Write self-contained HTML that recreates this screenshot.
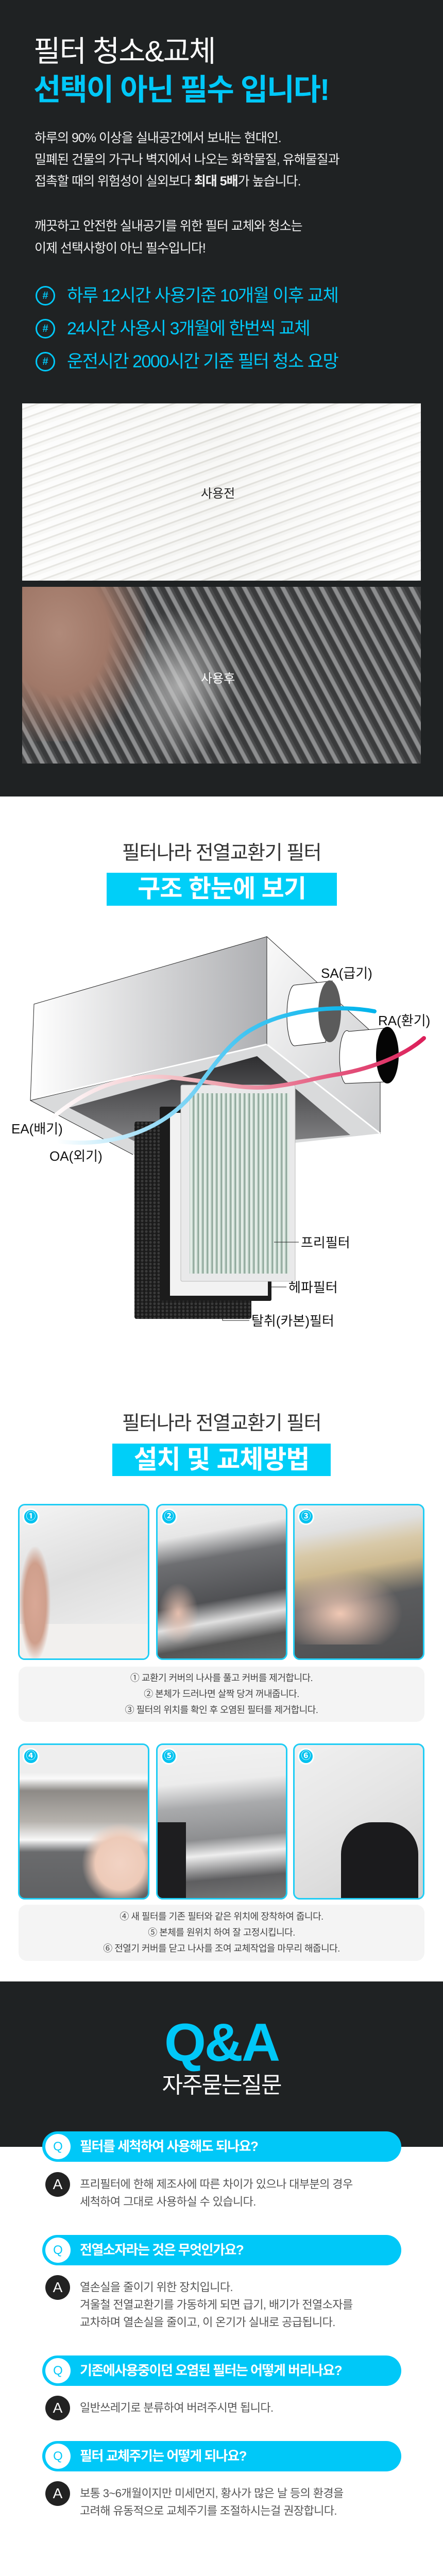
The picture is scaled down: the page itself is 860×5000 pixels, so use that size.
<!DOCTYPE html>
<html><head><meta charset="utf-8">
<style>
*{margin:0;padding:0;box-sizing:border-box}
body{width:860px;height:5000px;position:relative;background:#fff;font-family:"Liberation Sans","Noto Sans CJK KR",sans-serif;overflow:hidden}
.a{position:absolute;white-space:nowrap}
.dark{background:#1f2223}
.cy{color:#00c8f8}
.hash{position:absolute;left:69px;width:38px;height:38px;border:3px solid #00c8f8;border-radius:50%;color:#00c8f8;font-size:20px;font-weight:bold;text-align:center;line-height:32px}
.ht{position:absolute;left:130px;font-size:34px;color:#00c8f8;letter-spacing:-1.5px;line-height:40px}
.p{position:absolute;left:67px;font-size:25px;color:#f0f0f0;letter-spacing:-1px;line-height:30px}
.ph{position:absolute;width:255px;height:303px;border:3px solid #1fcdf5;border-radius:13px;overflow:hidden}
.num{position:absolute;left:6px;top:6px;width:32px;height:32px;border-radius:50%;background:#00c2ef;border:3px solid #fff;color:#fff;font-weight:bold;font-size:19px;text-align:center;line-height:26px}
.cap{position:absolute;left:36px;width:788px;background:#f4f4f4;border-radius:16px}
.cap div{text-align:center;font-size:18px;color:#444;letter-spacing:-0.5px;height:31px;line-height:31px}
.qb{position:absolute;left:82px;width:697px;height:59px;border-radius:30px;background:#00c8f8}
.qb .c{position:absolute;left:6px;top:5px;width:49px;height:49px;border-radius:50%;background:#fff;color:#00c8f8;font-size:24px;text-align:center;line-height:49px}
.qb .t{position:absolute;left:73px;top:0;line-height:59px;color:#fff;font-weight:bold;font-size:26px;letter-spacing:-1.5px}
.ac{position:absolute;left:88px;width:48px;height:48px;border-radius:50%;background:#222;color:#fff;font-size:28px;text-align:center;line-height:48px}
.at{position:absolute;left:155px;font-size:22px;color:#555;letter-spacing:-0.6px;line-height:34px}
</style></head><body>

<!-- section 1 dark -->
<div class="a dark" style="left:0;top:0;width:860px;height:1546px"></div>
<div class="a" style="left:65px;top:68px;font-size:57px;color:#fff;letter-spacing:-2px;line-height:64px">필터 청소&amp;교체</div>
<div class="a cy" style="left:65px;top:143px;font-size:58px;font-weight:bold;letter-spacing:-2px;line-height:64px">선택이 아닌 필수 입니다!</div>
<div class="p" style="top:253px">하루의 90% 이상을 실내공간에서 보내는 현대인.</div>
<div class="p" style="top:295px">밀폐된 건물의 가구나 벽지에서 나오는 화학물질, 유해물질과</div>
<div class="p" style="top:337px">접촉할 때의 위험성이 실외보다 <b>최대 5배</b>가 높습니다.</div>
<div class="p" style="top:424px">깨끗하고 안전한 실내공기를 위한 필터 교체와 청소는</div>
<div class="p" style="top:467px">이제 선택사항이 아닌 필수입니다!</div>
<div class="hash" style="top:555px">#</div><div class="ht" style="top:554px">하루 12시간 사용기준 10개월 이후 교체</div>
<div class="hash" style="top:619px">#</div><div class="ht" style="top:618px">24시간 사용시 3개월에 한번씩 교체</div>
<div class="hash" style="top:683px">#</div><div class="ht" style="top:682px">운전시간 2000시간 기준 필터 청소 요망</div>

<div class="a" style="left:43px;top:783px;width:774px;height:344px;background:repeating-linear-gradient(160deg,#fdfdfc 0 9px,#e2e1dc 10px 12px,#f7f7f5 13px 18px);"></div>
<div class="a" style="left:43px;top:783px;width:774px;height:344px;background:linear-gradient(90deg,rgba(255,255,255,.2),rgba(200,200,195,.1),rgba(255,255,255,.3))"></div>
<div class="a" style="left:390px;top:938px;font-size:24px;color:#222">사용전</div>

<div class="a" style="left:43px;top:1139px;width:774px;height:343px;background:repeating-linear-gradient(62deg,#3a3b3c 0 8px,#8d8e8f 10px 16px,#4a4b4c 18px 22px);"></div>
<div class="a" style="left:43px;top:1139px;width:240px;height:300px;background:radial-gradient(ellipse at 30% 30%,#b08a7a 0,#a07868 40%,rgba(140,110,100,.0) 75%)"></div>
<div class="a" style="left:240px;top:1180px;width:220px;height:300px;background:radial-gradient(ellipse at 50% 50%,rgba(200,200,200,.8),rgba(150,150,150,0) 70%)"></div>
<div class="a" style="left:390px;top:1297px;font-size:24px;color:#fff">사용후</div>

<!-- section 2 structure -->
<div class="a" style="left:0;top:1636px;width:860px;text-align:center;font-size:38px;color:#333;letter-spacing:-1.5px;line-height:40px">필터나라 전열교환기 필터</div>
<div class="a" style="left:207px;top:1694px;width:447px;height:64px;background:#00cff8;color:#fff;font-weight:bold;font-size:48px;text-align:center;line-height:64px;letter-spacing:-1px">구조 한눈에 보기</div>

<svg class="a" style="left:0;top:1780px" width="860" height="820" viewBox="0 1780 860 820">
<defs>
<linearGradient id="fr" x1="0" x2="1"><stop offset="0" stop-color="#fff"/><stop offset="1" stop-color="#aeafb2"/></linearGradient>
<linearGradient id="rt" x1="0" x2="1" y1="0" y2="1"><stop offset="0" stop-color="#fafafa"/><stop offset="1" stop-color="#c9cacc"/></linearGradient>
<linearGradient id="dk" x1="0" y1="0" x2="0" y2="1"><stop offset="0" stop-color="#2e2e30"/><stop offset="1" stop-color="#8a8a8c"/></linearGradient>
<linearGradient id="bl" x1="0" x2="1"><stop offset="0" stop-color="#fff"/><stop offset=".35" stop-color="#8dd8f6"/><stop offset=".6" stop-color="#3fc4f2"/><stop offset="1" stop-color="#00b4ec"/></linearGradient>
<linearGradient id="rd" x1="0" x2="1"><stop offset="0" stop-color="#fff"/><stop offset=".4" stop-color="#f0b2b9"/><stop offset="1" stop-color="#dc1f5a"/></linearGradient>
<pattern id="gs" width="9" height="10" patternUnits="userSpaceOnUse"><rect width="9" height="10" fill="#b9cdc3"/><rect width="4" height="10" fill="#e3ece6"/><rect x="6" width="2" height="10" fill="#8ea699"/></pattern>
<pattern id="hx" width="8" height="7" patternUnits="userSpaceOnUse"><rect width="8" height="7" fill="#1b1b1b"/><circle cx="4" cy="3.5" r="2.6" fill="#3a3a3a"/></pattern>
</defs>
<!-- right face -->
<polygon points="518,1818 738,2018 738,2200 518,2027" fill="url(#rt)" stroke="#222" stroke-width="1"/>
<!-- bottom plate -->
<polygon points="59,2136 518,2027 738,2200 565,2219 258,2241" fill="#d9dadb"/>
<polygon points="134,2150 499,2050 680,2203 300,2235" fill="url(#dk)"/>
<polyline points="59,2136 258,2241" fill="none" stroke="#222" stroke-width="1"/>
<polyline points="518,2027 738,2200" fill="none" stroke="#fff" stroke-width="3"/>
<!-- front face -->
<polygon points="66,1949 518,1818 518,2027 59,2136" fill="url(#fr)" stroke="#222" stroke-width="1"/>
<line x1="75" y1="2130" x2="518" y2="2027" stroke="#fff" stroke-width="3"/>
<!-- SA duct -->
<path d="M572,1912 L645,1904 L632,2023 L572,2030 A15,59 0 0 1 572,1912 Z" fill="#fff" stroke="#111" stroke-width="1"/>
<ellipse cx="640" cy="1963" rx="22" ry="60" fill="#5b5b5b"/>
<!-- RA duct -->
<path d="M677,2002 L755,1995 L748,2100 L670,2103 A14,51 0 0 1 677,2002 Z" fill="#fff" stroke="#111" stroke-width="1"/>
<ellipse cx="752" cy="2048" rx="22" ry="55" fill="#050505"/>
<!-- filters -->
<rect x="261" y="2177" width="227" height="383" rx="4" fill="url(#hx)"/>
<rect x="310" y="2148" width="217" height="377" rx="3" fill="#1c1c1c"/>
<rect x="330" y="2160" width="190" height="355" fill="#f2f2f2"/>
<rect x="351" y="2106" width="222" height="381" rx="3" fill="#e9e9ea" stroke="#bbb"/>
<rect x="368" y="2122" width="194" height="350" fill="url(#gs)"/>
<!-- curves -->
<path d="M93,2177 C180,2100 260,2085 329,2091 C420,2100 470,2115 521,2110 C580,2104 610,2092 658,2085 C730,2072 790,2045 823,2015" fill="none" stroke="url(#rd)" stroke-width="8" stroke-linecap="round"/>
<path d="M110,2215 C230,2230 330,2185 384,2110 C430,2045 460,2012 494,1995 C560,1958 660,1950 727,1963" fill="none" stroke="url(#bl)" stroke-width="8" stroke-linecap="round"/>
<!-- leader lines -->
<line x1="532" y1="2411" x2="580" y2="2411" stroke="#222" stroke-width="1"/>
<line x1="527" y1="2498" x2="556" y2="2498" stroke="#222" stroke-width="1"/>
<polyline points="432,2537 432,2563 484,2563" fill="none" stroke="#222" stroke-width="1"/>
<g font-family="Liberation Sans,Noto Sans CJK KR,sans-serif" font-size="26" fill="#111">
<text x="623" y="1898">SA(급기)</text>
<text x="734" y="1990">RA(환기)</text>
<text x="22" y="2200">EA(배기)</text>
<text x="96" y="2253">OA(외기)</text>
<text x="584" y="2421">프리필터</text>
<text x="560" y="2508">헤파필터</text>
<text x="488" y="2573">탈취(카본)필터</text>
</g>
</svg>

<!-- section 3 install -->
<div class="a" style="left:0;top:2743px;width:860px;text-align:center;font-size:38px;color:#333;letter-spacing:-1.5px;line-height:40px">필터나라 전열교환기 필터</div>
<div class="a" style="left:218px;top:2802px;width:424px;height:63px;background:#00cff8;color:#fff;font-weight:bold;font-size:50px;text-align:center;line-height:63px;letter-spacing:-1px">설치 및 교체방법</div>

<div class="ph" style="left:35px;top:2919px;background:linear-gradient(160deg,#f4f4f4 0,#dedede 45%,#e8e8e8 70%,#f3f3f3 100%)">
 <div class="a" style="left:0;top:230px;width:255px;height:80px;background:#f2f0ee"></div>
 <div class="a" style="left:0;top:80px;width:60px;height:220px;background:radial-gradient(ellipse,#d9a896 0,#cf9f8c 50%,rgba(220,180,160,0) 72%)"></div>
 <div class="num">①</div></div>
<div class="ph" style="left:303px;top:2919px;background:linear-gradient(170deg,#f3f3f3 0,#e6e6e6 20%,#6e6f72 35%,#505154 60%,#e0e0e0 72%,#555 85%,#666 100%)">
 <div class="a" style="left:0;top:150px;width:80px;height:120px;background:radial-gradient(ellipse,#e5bfae 0,rgba(230,190,170,0) 70%)"></div>
 <div class="num">②</div></div>
<div class="ph" style="left:569px;top:2919px;background:linear-gradient(170deg,#f0f0f0 0,#e0e0e0 18%,#d8c9a8 30%,#cdb98f 42%,#5b5c5e 60%,#4e4f51 100%)">
 <div class="a" style="left:0;top:120px;width:220px;height:150px;background:radial-gradient(ellipse at 40% 60%,#f0c8b4 0,rgba(240,200,180,0) 65%)"></div>
 <div class="num">③</div></div>
<div class="cap" style="top:3235px;height:107px;padding-top:7px">
 <div>① 교환기 커버의 나사를 풀고 커버를 제거합니다.</div>
 <div>② 본체가 드러나면 살짝 당겨 꺼내줍니다.</div>
 <div>③ 필터의 위치를 확인 후 오염된 필터를 제거합니다.</div>
</div>

<div class="ph" style="left:35px;top:3384px;background:linear-gradient(180deg,#eee 0,#eee 18%,#fafafa 22%,#8d8a86 30%,#b6b2ad 50%,#f8f8f8 62%,#6a6b6d 70%,#606163 100%)">
 <div class="a" style="left:120px;top:150px;width:150px;height:160px;background:radial-gradient(ellipse,#f2d3c4 0,#edcab8 45%,rgba(240,200,180,0) 70%)"></div>
 <div class="num">④</div></div>
<div class="ph" style="left:303px;top:3384px;background:linear-gradient(175deg,#f2f2f2 0,#ececec 25%,#a9aaac 40%,#8d8e90 60%,#eeeeee 70%,#5e5e60 85%,#777 100%)">
 <div class="a" style="left:0;top:150px;width:55px;height:155px;background:#1e1e20"></div>
 <div class="num">⑤</div></div>
<div class="ph" style="left:569px;top:3384px;background:linear-gradient(150deg,#f0f0f0 0,#e6e6e6 40%,#dcdcdc 70%,#cfcfcf 100%)">
 <div class="a" style="left:90px;top:150px;width:150px;height:155px;border-radius:40% 40% 0 0;background:#1b1b1d"></div>
 <div class="num">⑥</div></div>
<div class="cap" style="top:3697px;height:109px;padding-top:8px">
 <div>④ 새 필터를 기존 필터와 같은 위치에 장착하여 줍니다.</div>
 <div>⑤ 본체를 원위치 하여 잘 고정시킵니다.</div>
 <div>⑥ 전열기 커버를 닫고 나사를 조여 교체작업을 마무리 해줍니다.</div>
</div>

<!-- Q&A -->
<div class="a dark" style="left:0;top:3846px;width:860px;height:321px"></div>
<div class="a cy" style="left:0;top:3905px;width:860px;text-align:center;font-size:104px;font-weight:bold;letter-spacing:-3px;line-height:120px">Q&amp;A</div>
<div class="a" style="left:0;top:4024px;width:860px;text-align:center;font-size:44px;color:#fff;letter-spacing:-2px;line-height:48px">자주묻는질문</div>

<div class="qb" style="top:4137px"><div class="c">Q</div><div class="t">필터를 세척하여 사용해도 되나요?</div></div>
<div class="ac" style="top:4216px">A</div>
<div class="at" style="top:4223px">프리필터에 한해 제조사에 따른 차이가 있으나 대부분의 경우<br>세척하여 그대로 사용하실 수 있습니다.</div>

<div class="qb" style="top:4338px"><div class="c">Q</div><div class="t">전열소자라는 것은 무엇인가요?</div></div>
<div class="ac" style="top:4416px">A</div>
<div class="at" style="top:4423px">열손실을 줄이기 위한 장치입니다.<br>겨울철 전열교환기를 가동하게 되면 급기, 배기가 전열소자를<br>교차하며 열손실을 줄이고, 이 온기가 실내로 공급됩니다.</div>

<div class="qb" style="top:4572px"><div class="c">Q</div><div class="t">기존에사용중이던 오염된 필터는 어떻게 버리나요?</div></div>
<div class="ac" style="top:4650px">A</div>
<div class="at" style="top:4657px">일반쓰레기로 분류하여 버려주시면 됩니다.</div>

<div class="qb" style="top:4738px"><div class="c">Q</div><div class="t">필터 교체주기는 어떻게 되나요?</div></div>
<div class="ac" style="top:4816px">A</div>
<div class="at" style="top:4823px">보통 3~6개월이지만 미세먼지, 황사가 많은 날 등의 환경을<br>고려해 유동적으로 교체주기를 조절하시는걸 권장합니다.</div>

</body></html>
